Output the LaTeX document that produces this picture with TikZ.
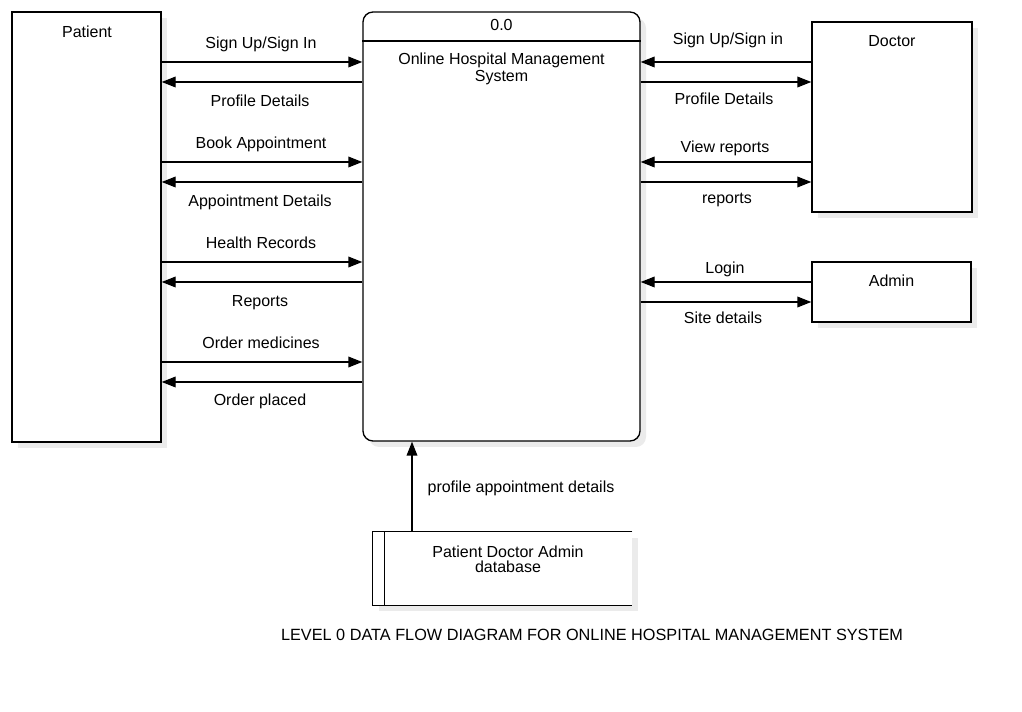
\documentclass[tikz,border=0pt]{standalone}
\usepackage{fontspec}
\setmainfont{Liberation Sans}
\usetikzlibrary{arrows.meta,shadows}

\tikzset{
  every node/.style={font=\fontsize{12}{12}\selectfont, inner sep=0pt},
  shade/.style={drop shadow={shadow xshift=4.5pt, shadow yshift=-4.5pt, fill=black!8, opacity=1}},
  entity/.style={draw, line width=1pt, fill=white, shade},
  flow/.style={line width=1pt, -{Triangle[length=10.5pt,width=8pt]}},
  lbl/.style={text height=9pt, text depth=2.5pt}
}

\begin{document}
\begin{tikzpicture}[x=0.75pt,y=-0.75pt]
\useasboundingbox (0,0) rectangle (1022,712);

% external entities
\node[entity, minimum width=111.75pt, minimum height=322.5pt] (patient) at (86.5,227) {};
\node[lbl] (patientname) at (87,32.7) {Patient};

\node[entity, minimum width=120pt, minimum height=142.5pt] (doctor) at (892,117) {};
\node[lbl] (doctorname) at (892,42.4) {Doctor};

\node[entity, minimum width=119.25pt, minimum height=45pt] (admin) at (891.5,292) {};
\node[lbl] (adminname) at (891.5,282.4) {Admin};

% process
\node[entity, rounded corners=7.5pt, minimum width=207.75pt, minimum height=321.75pt] (proc) at (501.5,226.5) {};
\draw[line width=1pt] (proc.west |- 0,41) -- (proc.east |- 0,41);
\node[lbl] (procid) at (501.5,25.7) {0.0};
\node[align=center] (procname) at (501.5,69) {Online Hospital Management\\[0.5pt]System};

% data store
\node[fill=white, shade, minimum width=194.25pt, minimum height=54.75pt] (store) at (502.5,568.5) {};
\draw[line width=1pt] (store.north east) -- (store.north west) -- (store.south west) -- (store.south east);
\draw[line width=1pt] ([xshift=9pt]store.north west) -- ([xshift=9pt]store.south west);
\node[align=center] (storename) at (508,559) {Patient Doctor Admin\\[-0.75pt]database};

% patient flows
\draw[flow] (patient.east |- 0,62) -- (proc.west |- 0,62);
\draw[flow] (proc.west |- 0,82) -- (patient.east |- 0,82);
\draw[flow] (patient.east |- 0,162) -- (proc.west |- 0,162);
\draw[flow] (proc.west |- 0,182) -- (patient.east |- 0,182);
\draw[flow] (patient.east |- 0,262) -- (proc.west |- 0,262);
\draw[flow] (proc.west |- 0,282) -- (patient.east |- 0,282);
\draw[flow] (patient.east |- 0,362) -- (proc.west |- 0,362);
\draw[flow] (proc.west |- 0,382) -- (patient.east |- 0,382);

\node[lbl] at (261,44) {Sign Up/Sign In};
\node[lbl] at (260,101.7) {Profile Details};
\node[lbl] at (261,143.7) {Book Appointment};
\node[lbl] at (260,201.7) {Appointment Details};
\node[lbl] at (261,243.7) {Health Records};
\node[lbl] at (260,301.7) {Reports};
\node[lbl] at (261,343.7) {Order medicines};
\node[lbl] at (260,401) {Order placed};

% doctor flows
\draw[flow] (doctor.west |- 0,62) -- (proc.east |- 0,62);
\draw[flow] (proc.east |- 0,82) -- (doctor.west |- 0,82);
\draw[flow] (doctor.west |- 0,162) -- (proc.east |- 0,162);
\draw[flow] (proc.east |- 0,182) -- (doctor.west |- 0,182);

\node[lbl] at (728,40) {Sign Up/Sign in};
\node[lbl] at (724,99.7) {Profile Details};
\node[lbl] at (725,148.4) {View reports};
\node[lbl] at (727,198.7) {reports};

% admin flows
\draw[flow] (admin.west |- 0,282) -- (proc.east |- 0,282);
\draw[flow] (proc.east |- 0,302) -- (admin.west |- 0,302);

\node[lbl] at (725,268.7) {Login};
\node[lbl] at (723,318.7) {Site details};

% data store flow
\draw[flow] (store.north -| 412,0) -- (proc.south -| 412,0);
\node[lbl] at (521,488.4) {profile appointment details};

% title
\node[lbl, font=\fontsize{12.2}{12}\selectfont] (title) at (592,635.7) {LEVEL 0 DATA FLOW DIAGRAM FOR ONLINE HOSPITAL MANAGEMENT SYSTEM};
\end{tikzpicture}
\end{document}
